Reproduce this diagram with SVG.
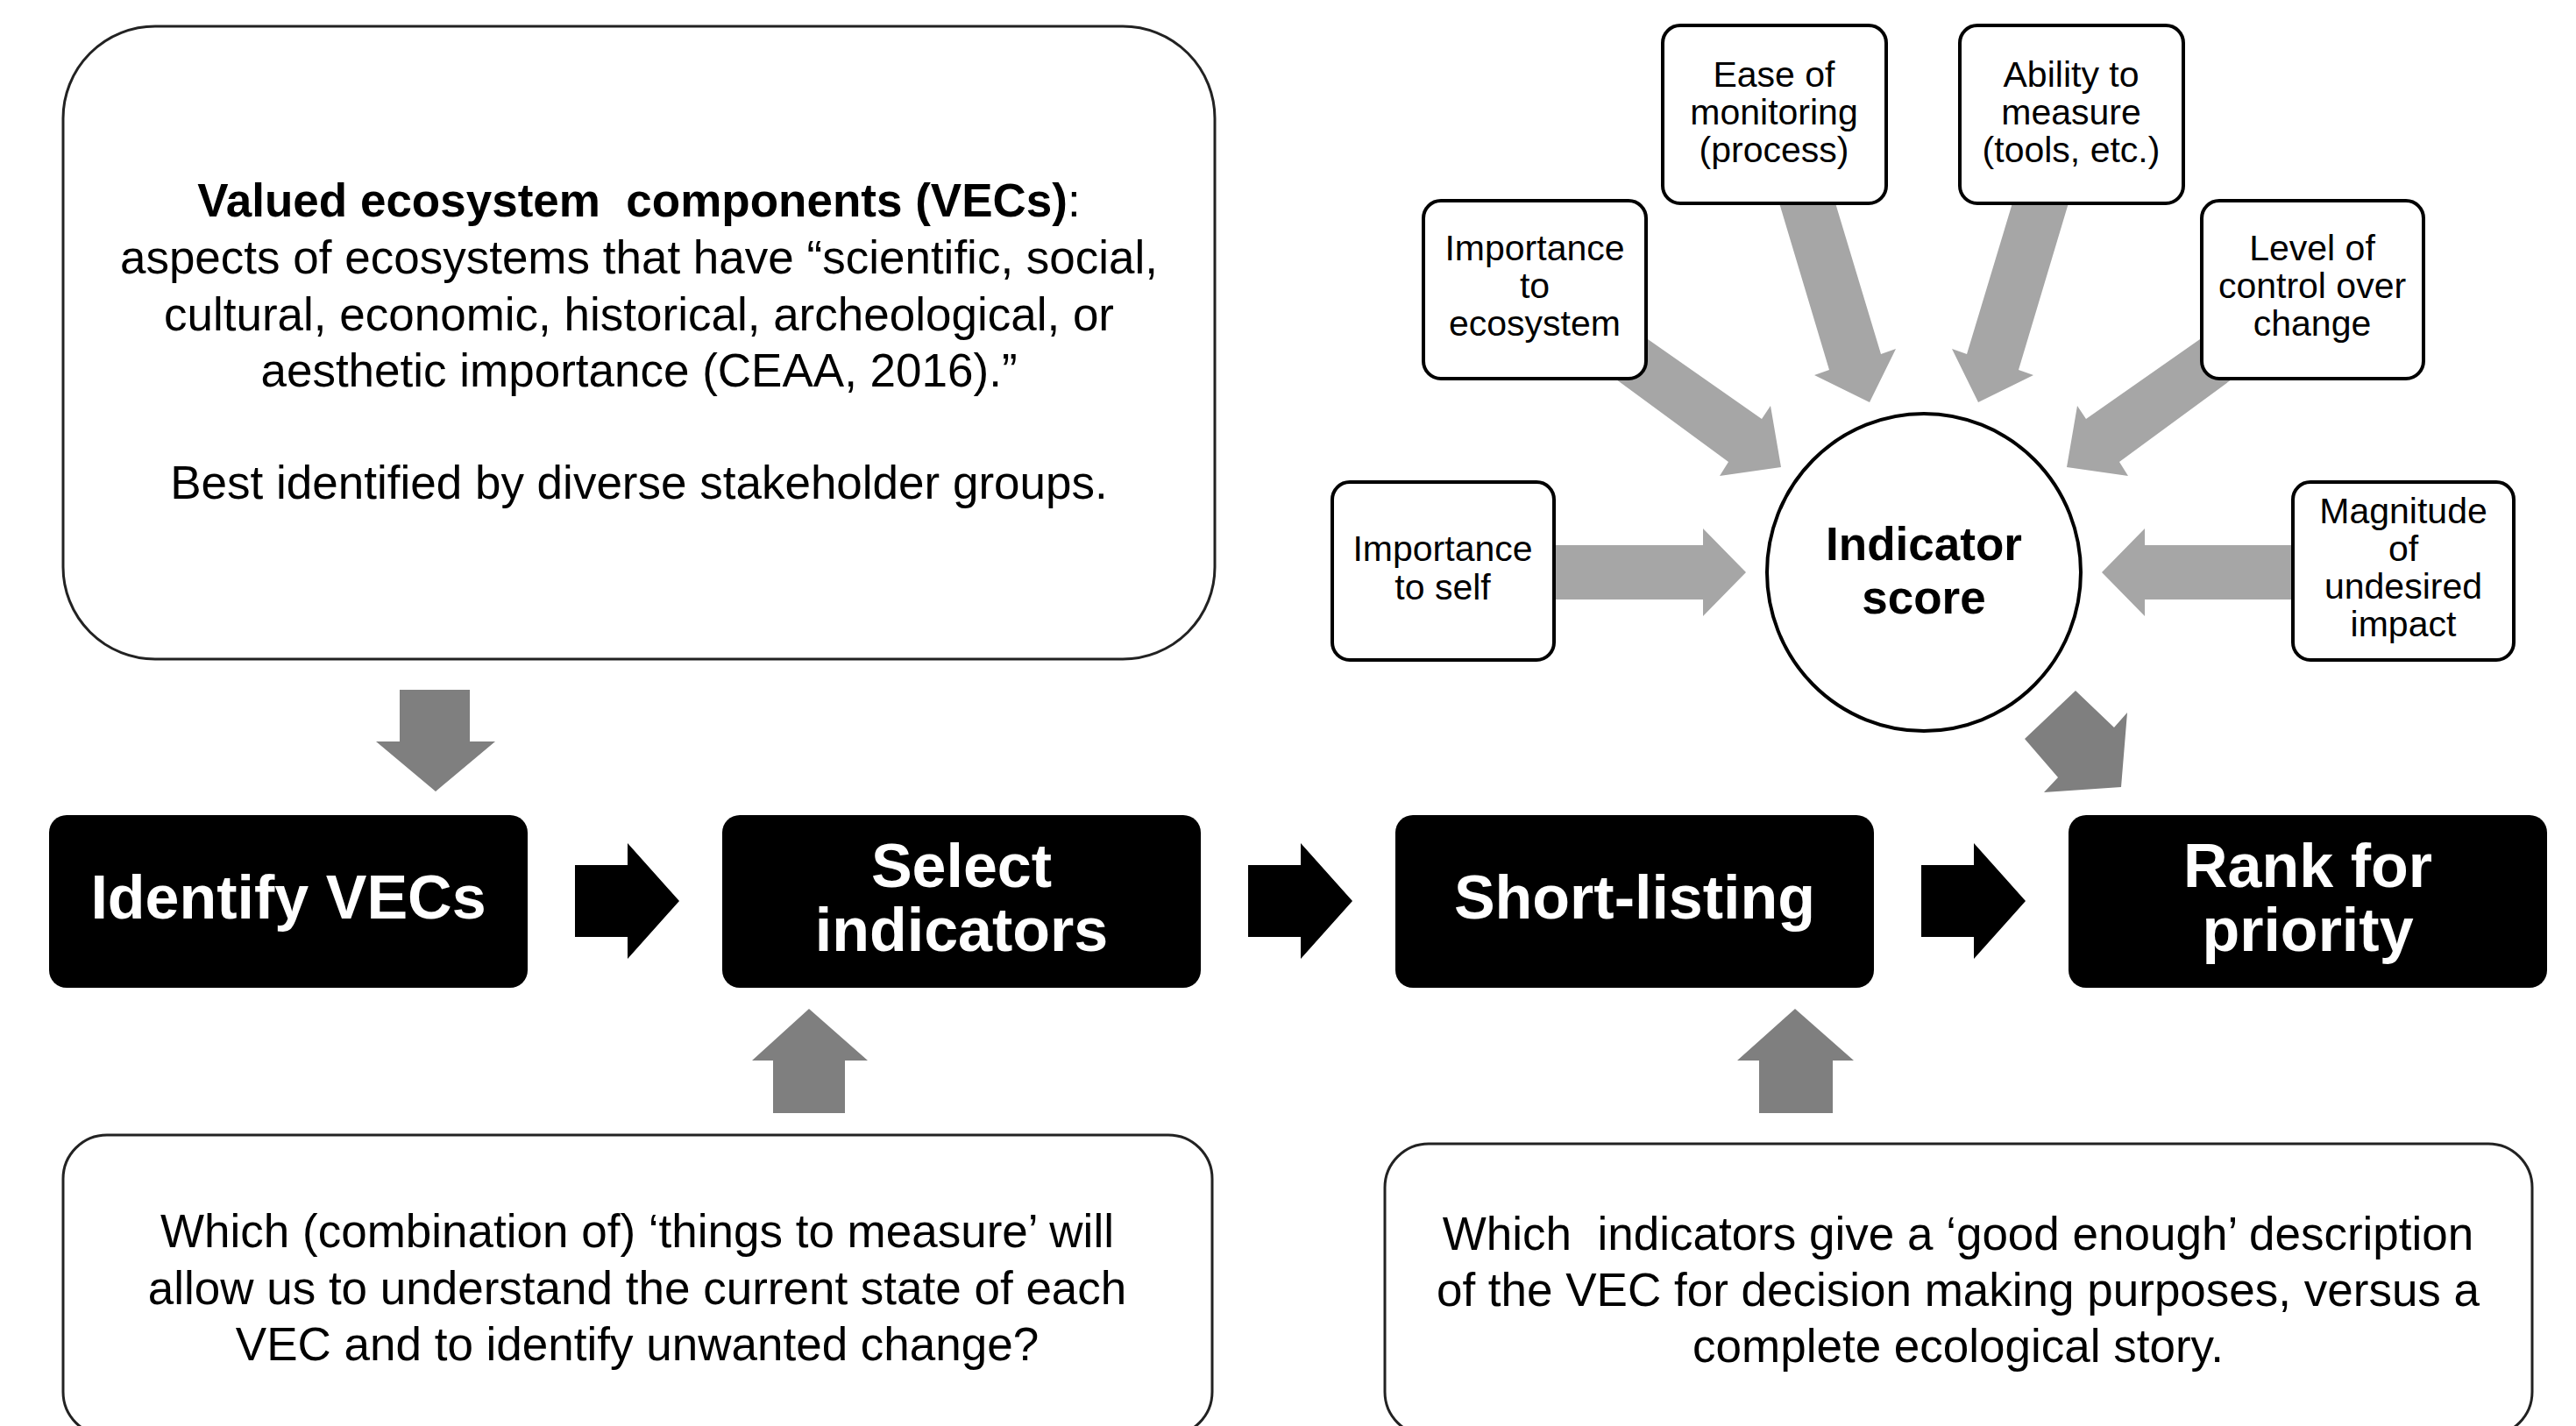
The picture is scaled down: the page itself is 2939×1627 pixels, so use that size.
<svg xmlns="http://www.w3.org/2000/svg" width="2939" height="1627" viewBox="0 0 2939 1627">
<style>
.t{font-family:"Liberation Sans",Arial,sans-serif;fill:#000;text-anchor:middle}
.body{font-size:53px}
.small{font-size:41px}
.step{font-family:"Liberation Sans",Arial,sans-serif;font-size:70px;font-weight:bold;fill:#fff;text-anchor:middle}
.big{fill:#fff;stroke:#222;stroke-width:3}
.sbox{fill:#fff;stroke:#000;stroke-width:4}
.blk{fill:#000}
.lg{fill:#a6a6a6}
.dg{fill:#7f7f7f}
.ba{fill:#000}
</style>
<rect width="2939" height="1627" fill="#fff"/>

<g id="connectors">
  <!-- light gray indicator arrows -->
  <polygon class="lg" points="1760,622 1943,622 1943,603 1992,653 1943,703 1943,684 1760,684"/>
  <polygon class="lg" points="2630,622 2447,622 2447,603 2398,653 2447,703 2447,684 2630,684"/>
  <polygon class="lg" points="1870,380 2010,478 2020,463 2032,533 1962,543 1972,527 1840,430"/>
  <polygon class="lg" points="2520,380 2380,478 2370,463 2358,533 2428,543 2418,527 2550,430"/>
  <polygon class="lg" points="2028,225 2092,225 2146,404 2163,398 2133,459 2070,428 2087,422"/>
  <polygon class="lg" points="2362,225 2298,225 2244,404 2227,398 2257,459 2320,428 2303,422"/>
  <!-- dark gray arrows -->
  <polygon class="dg" points="2368,788 2412,830 2427,813 2420,898 2332,904 2348,887 2310,843"/>
  <polygon class="dg" points="456,787 536,787 536,846 565,846 497,903 429,846 456,846"/>
  <polygon class="dg" points="923,1151 990,1210 964,1210 964,1270 882,1270 882,1210 858,1210"/>
  <polygon class="dg" points="2048,1151 2115,1210 2091,1210 2091,1270 2007,1270 2007,1210 1982,1210"/>
  <!-- black process arrows -->
  <polygon class="ba" points="656,987 716,987 716,962 775,1028 716,1094 716,1069 656,1069"/>
  <polygon class="ba" points="1424,987 1484,987 1484,962 1543,1028 1484,1094 1484,1069 1424,1069"/>
  <polygon class="ba" points="2192,987 2252,987 2252,962 2311,1028 2252,1094 2252,1069 2192,1069"/>
</g>

<g id="vec-definition">
  <rect class="big" x="72" y="30" width="1314" height="722" rx="105" ry="105"/>
  <text class="t body" x="729" y="247"><tspan font-weight="bold" xml:space="preserve">Valued ecosystem  components (VECs)</tspan>:</text>
  <text class="t body" x="729" y="312">aspects of ecosystems that have “scientific, social,</text>
  <text class="t body" x="729" y="377">cultural, economic, historical, archeological, or</text>
  <text class="t body" x="729" y="441">aesthetic importance (CEAA, 2016).”</text>
  <text class="t body" x="729" y="569">Best identified by diverse stakeholder groups.</text>
</g>

<g id="question-measure">
  <rect class="big" x="72" y="1295" width="1311" height="343" rx="50" ry="50"/>
  <text class="t body" x="727" y="1423">Which (combination of) ‘things to measure’ will</text>
  <text class="t body" x="727" y="1488">allow us to understand the current state of each</text>
  <text class="t body" x="727" y="1552">VEC and to identify unwanted change?</text>
</g>

<g id="question-good-enough">
  <rect class="big" x="1580" y="1305" width="1309" height="333" rx="50" ry="50"/>
  <text class="t body" x="2234" y="1426" xml:space="preserve">Which  indicators give a ‘good enough’ description</text>
  <text class="t body" x="2234" y="1490">of the VEC for decision making purposes, versus a</text>
  <text class="t body" x="2234" y="1554">complete ecological story.</text>
</g>

<g id="identify-vecs">
  <rect class="blk" x="56" y="930" width="546" height="197" rx="20" ry="20"/>
  <text class="step" x="329" y="1048">Identify VECs</text>
</g>
<g id="select-indicators">
  <rect class="blk" x="824" y="930" width="546" height="197" rx="20" ry="20"/>
  <text class="step" x="1097" y="1012">Select</text>
  <text class="step" x="1097" y="1085">indicators</text>
</g>
<g id="short-listing">
  <rect class="blk" x="1592" y="930" width="546" height="197" rx="20" ry="20"/>
  <text class="step" x="1865" y="1048">Short-listing</text>
</g>
<g id="rank-for-priority">
  <rect class="blk" x="2360" y="930" width="546" height="197" rx="20" ry="20"/>
  <text class="step" x="2633" y="1012">Rank for</text>
  <text class="step" x="2633" y="1085">priority</text>
</g>

<g id="indicator-score">
  <ellipse cx="2195" cy="653" rx="179" ry="181" fill="#fff" stroke="#000" stroke-width="4"/>
  <text class="t" x="2195" y="639" font-size="53" font-weight="bold">Indicator</text>
  <text class="t" x="2195" y="700" font-size="53" font-weight="bold">score</text>
</g>

<g id="ease-of-monitoring">
  <rect class="sbox" x="1897" y="29" width="255" height="203" rx="20" ry="20"/>
  <text class="t small" x="2024" y="99">Ease of</text>
  <text class="t small" x="2024" y="142">monitoring</text>
  <text class="t small" x="2024" y="185">(process)</text>
</g>
<g id="ability-to-measure">
  <rect class="sbox" x="2236" y="29" width="255" height="203" rx="20" ry="20"/>
  <text class="t small" x="2363" y="99">Ability to</text>
  <text class="t small" x="2363" y="142">measure</text>
  <text class="t small" x="2363" y="185">(tools, etc.)</text>
</g>
<g id="importance-to-ecosystem">
  <rect class="sbox" x="1624" y="229" width="254" height="203" rx="20" ry="20"/>
  <text class="t small" x="1751" y="297">Importance</text>
  <text class="t small" x="1751" y="340">to</text>
  <text class="t small" x="1751" y="383">ecosystem</text>
</g>
<g id="level-of-control">
  <rect class="sbox" x="2512" y="229" width="253" height="203" rx="20" ry="20"/>
  <text class="t small" x="2638" y="297">Level of</text>
  <text class="t small" x="2638" y="340">control over</text>
  <text class="t small" x="2638" y="383">change</text>
</g>
<g id="importance-to-self">
  <rect class="sbox" x="1520" y="550" width="253" height="203" rx="20" ry="20"/>
  <text class="t small" x="1646" y="640">Importance</text>
  <text class="t small" x="1646" y="684">to self</text>
</g>
<g id="magnitude-of-impact">
  <rect class="sbox" x="2616" y="550" width="252" height="203" rx="20" ry="20"/>
  <text class="t small" x="2742" y="597">Magnitude</text>
  <text class="t small" x="2742" y="640">of</text>
  <text class="t small" x="2742" y="683">undesired</text>
  <text class="t small" x="2742" y="726">impact</text>
</g>
</svg>
